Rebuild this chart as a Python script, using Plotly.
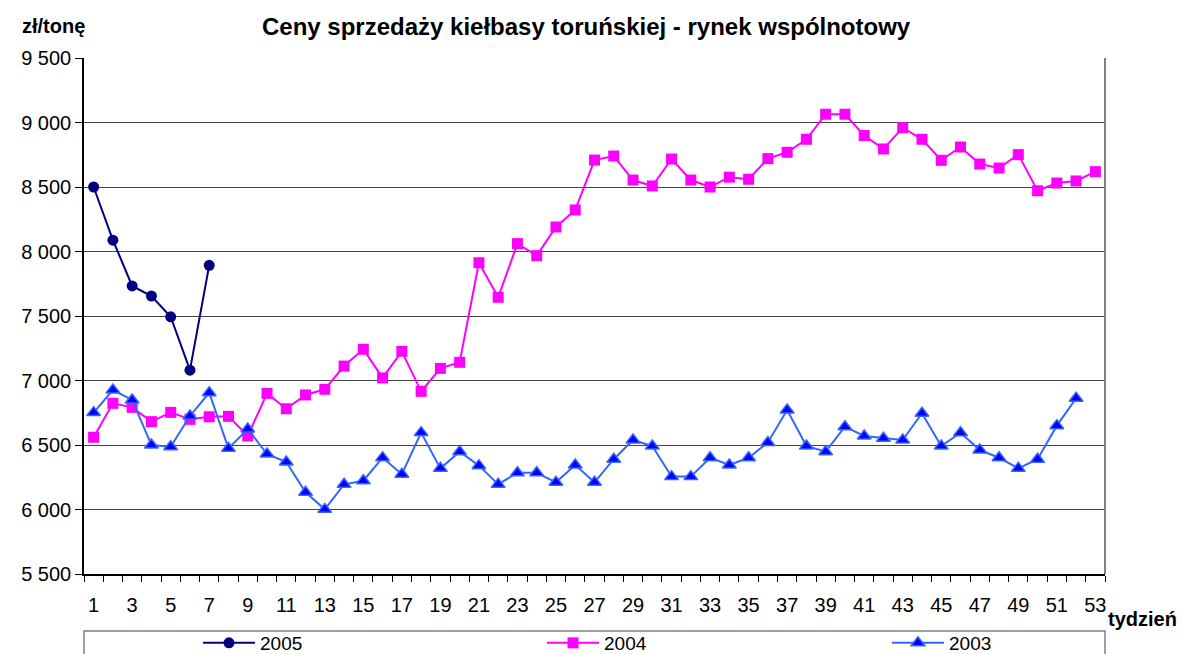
import plotly.graph_objects as go

weeks = list(range(1, 54))
y2005 = [8500, 8088, 7733, 7655, 7494, 7080, 7893]
y2004 = [6560, 6823, 6792, 6681, 6753, 6699, 6719, 6722, 6570, 6900,
         6781, 6888, 6932, 7112, 7242, 7020, 7226, 6916, 7094, 7141,
         7913, 7645, 8061, 7968, 8190, 8322, 8709, 8740, 8554, 8508,
         8717, 8554, 8500, 8576, 8560, 8720, 8769, 8870, 9064, 9064,
         8899, 8795, 8960, 8870, 8707, 8810, 8678, 8647, 8751, 8471,
         8531, 8547, 8619]
y2003 = [6751, 6926, 6849, 6500, 6487, 6725, 6905, 6474, 6624, 6430,
         6368, 6133, 6001, 6195, 6223, 6402, 6274, 6596, 6319, 6448,
         6340, 6195, 6285, 6285, 6211, 6345, 6211, 6390, 6539, 6492,
         6255, 6255, 6401, 6345, 6401, 6520, 6771, 6492, 6448, 6642,
         6570, 6552, 6539, 6746, 6492, 6595, 6461, 6401, 6319, 6390,
         6650, 6862]
x_ticks = list(range(1, 54, 2))
y_ticks = [5500, 6000, 6500, 7000, 7500, 8000, 8500, 9000, 9500]

W, H = 1184, 646  # page has an 8px body margin

fig = go.Figure()
fig.add_trace(go.Scatter(
    x=weeks[:len(y2005)], y=y2005, name="2005", mode="lines+markers",
    line=dict(color="#000080", width=2), legend="legend",
    marker=dict(symbol="circle", size=11, color="#000080")))
fig.add_trace(go.Scatter(
    x=weeks[:len(y2004)], y=y2004, name="2004", mode="lines+markers",
    line=dict(color="#FF00FF", width=2), legend="legend2",
    marker=dict(symbol="square", size=11, color="#FF00FF")))
fig.add_trace(go.Scatter(
    x=weeks[:len(y2003)], y=y2003, name="2003", mode="lines+markers",
    line=dict(color="#3366FF", width=2), legend="legend3",
    marker=dict(symbol="triangle-up", size=12, color="#0000FF",
                line=dict(color="#3366FF", width=1.5))))

leg_common = dict(orientation="h", xref="container", yref="container",
                  xanchor="left", y=(H - 635) / H, yanchor="middle",
                  font=dict(size=19), bgcolor="rgba(0,0,0,0)", borderwidth=0,
                  itemwidth=52)

fig.update_layout(
    width=W, height=H,
    margin=dict(l=76, r=87, t=50, b=80, autoexpand=False),
    paper_bgcolor="white", plot_bgcolor="white",
    separators=", ",
    font=dict(family="Liberation Sans, Arial, sans-serif", color="black", size=20),
    showlegend=True,
    legend=dict(leg_common, x=190 / W),
    legend2=dict(leg_common, x=534 / W),
    legend3=dict(leg_common, x=879 / W),
    shapes=[dict(type="rect", xref="paper", yref="paper", x0=0, x1=1,
                 y0=-(631 - 574) / 516, y1=-0.2, line=dict(color="#808080", width=1.5),
                 fillcolor="rgba(0,0,0,0)", layer="below")],
    annotations=[
        dict(text="<b>Ceny sprzedaży kiełbasy toruńskiej - rynek wspólnotowy</b>",
             xref="paper", yref="paper", x=(586 - 84) / 1021, y=1.0 + (58 - 27) / 516,
             xanchor="center", yanchor="middle", showarrow=False, font=dict(size=24)),
        dict(text="<b>zł/tonę</b>", xref="paper", yref="paper",
             x=(20 - 84) / 1021, y=1.0 + (58 - 26) / 516,
             xanchor="left", yanchor="middle", showarrow=False, font=dict(size=20)),
        dict(text="<b>tydzień</b>", xref="paper", yref="paper",
             x=(1106 - 84) / 1021, y=-(619 - 574) / 516,
             xanchor="left", yanchor="middle", showarrow=False, font=dict(size=20)),
    ],
)
fig.update_xaxes(
    range=[0.5, 53.5], tickmode="array", tickvals=x_ticks,
    ticktext=[str(v) for v in x_ticks], ticks="", ticklabelstandoff=12,
    showgrid=False, zeroline=False,
    showline=True, linecolor="black", linewidth=1.5, mirror=False,
    minor=dict(tickmode="array", tickvals=[w - 0.5 for w in weeks] + [53.5],
               ticks="outside", ticklen=6, tickcolor="black", showgrid=False),
)
fig.update_yaxes(
    range=[5500, 9500], tickmode="array", tickvals=y_ticks,
    tickformat=",d", ticks="outside", ticklen=7, tickcolor="black",
    showgrid=True, gridcolor="#444444", gridwidth=1, zeroline=False,
    showline=True, linecolor="black", linewidth=1.5,
)
fig.add_shape(type="line", xref="paper", yref="paper", x0=1, x1=1, y0=0, y1=1,
              line=dict(color="#808080", width=2))
fig.write_html("out.html")
